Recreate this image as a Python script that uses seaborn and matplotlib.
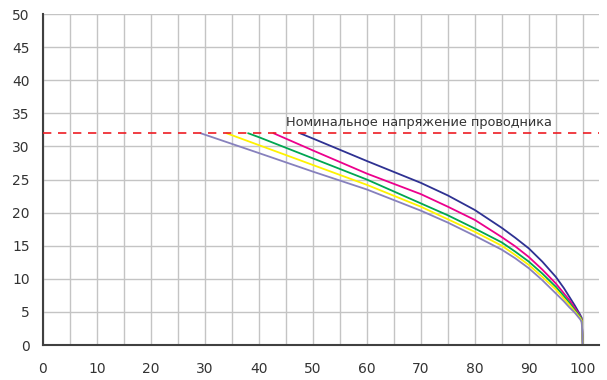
import matplotlib
matplotlib.use("Agg")
import matplotlib.pyplot as plt
from matplotlib.ticker import MultipleLocator
import pandas as pd
import seaborn as sns

# данные
navy_x = [47.6, 50, 60, 70, 75, 80, 85, 87.5, 90, 92.5, 95, 96.5, 97.5, 98.5, 99, 99.5, 99.8, 100]
navy_y = [32, 31.2, 27.8, 24.5, 22.6, 20.4, 17.7, 16.2, 14.6, 12.6, 10.3, 8.6, 7.3, 6.0, 5.3, 4.6, 4.1, 0]
pink_x = [42.7, 50, 60, 70, 75, 80, 85, 87.5, 90, 92.5, 95, 96.5, 97.5, 98.5, 99, 99.5, 99.8, 100]
pink_y = [32, 29.4, 25.9, 22.8, 20.9, 18.9, 16.3, 14.9, 13.3, 11.4, 9.3, 7.8, 6.8, 5.6, 5.0, 4.4, 3.9, 0]
green_x = [38, 40, 50, 60, 70, 75, 80, 85, 87.5, 90, 92.5, 95, 96.5, 97.5, 98.5, 99, 99.5, 99.8, 100]
green_y = [32, 31.4, 28.2, 25.0, 21.4, 19.6, 17.6, 15.5, 14.1, 12.6, 10.8, 8.8, 7.4, 6.4, 5.3, 4.8, 4.3, 3.8, 0]
yellow_x = [34, 40, 50, 60, 70, 75, 80, 85, 87.5, 90, 92.5, 95, 96.5, 97.5, 98.5, 99, 99.5, 99.8, 100]
yellow_y = [32, 30.2, 27.2, 24.2, 20.9, 19.0, 17.1, 15.0, 13.6, 12.1, 10.3, 8.4, 7.0, 6.1, 5.1, 4.6, 4.1, 3.7, 0]
purple_x = [29.2, 40, 50, 60, 70, 75, 80, 85, 87.5, 90, 92.5, 95, 96.5, 97.5, 98.5, 99, 99.5, 99.8, 100]
purple_y = [32, 29.0, 26.2, 23.5, 20.3, 18.5, 16.5, 14.4, 13.1, 11.6, 9.8, 7.8, 6.6, 5.7, 4.9, 4.4, 3.9, 3.5, 0]

nominal = 32
nominal_label = "Номинальное напряжение проводника"

series = {
    "navy": (navy_x, navy_y),
    "pink": (pink_x, pink_y),
    "green": (green_x, green_y),
    "yellow": (yellow_x, yellow_y),
    "purple": (purple_x, purple_y),
}
palette = {
    "navy": "#2e3192",
    "pink": "#ec008c",
    "green": "#00a651",
    "yellow": "#fff200",
    "purple": "#8781bd",
}

rows = []
for name, (xs, ys) in series.items():
    for x, y in zip(xs, ys):
        rows.append({"curve": name, "x": x, "y": y})
df = pd.DataFrame(rows)

sns.set_style("white")
plt.rcParams['font.family'] = ['DejaVu Sans']

fig = plt.figure(figsize=(6.07, 3.8), dpi=100)
ax = fig.add_axes([0.0708, 0.092, 0.916, 0.871])

sns.lineplot(data=df, x="x", y="y", hue="curve", palette=palette,
             estimator=None, sort=False, linewidth=1.3, legend=False, ax=ax)

# номинальное напряжение
ax.axhline(nominal, color="#ed1c24", linestyle=(0, (5, 4)), linewidth=1.2, zorder=3)
ax.text(45, nominal + 0.6, nominal_label, fontsize=9.3, color="#333333",
        ha="left", va="bottom")

ax.set_xlim(0, 103)
ax.set_ylim(0, 50)
ax.xaxis.set_major_locator(MultipleLocator(10))
ax.xaxis.set_minor_locator(MultipleLocator(5))
ax.yaxis.set_major_locator(MultipleLocator(5))

ax.grid(True, which="both", color="#c4c4c4", linewidth=1.0)
ax.set_axisbelow(True)

for s in ["top", "right"]:
    ax.spines[s].set_visible(False)
for s in ["left", "bottom"]:
    ax.spines[s].set_color("#404040")
    ax.spines[s].set_linewidth(1.5)

ax.tick_params(axis="both", which="major", length=5.5, width=1.3, color="#404040",
               labelsize=10, labelcolor="#333333", direction="out")
ax.tick_params(axis="x", which="minor", length=3.5, width=1.3, color="#404040",
               direction="out")
ax.tick_params(axis="x", which="major", pad=7)
ax.tick_params(axis="y", which="major", pad=4)

ax.set_xlabel("")
ax.set_ylabel("")

fig.savefig("out.png", dpi=100)
